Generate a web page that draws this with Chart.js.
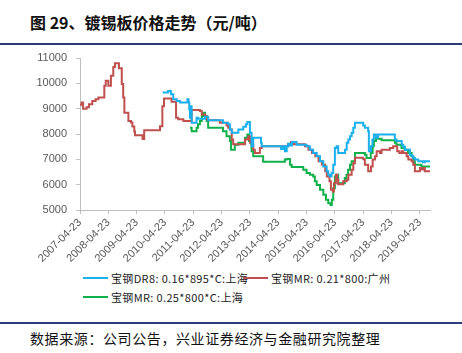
<!DOCTYPE html>
<html lang="zh">
<head>
<meta charset="UTF-8">
<title>镀锡板价格走势</title>
<script src="https://cdn.jsdelivr.net/npm/chart.js@4.4.0/dist/chart.umd.min.js"></script>
<style>
  body { margin: 0; width: 462px; height: 353px; background: #fff; position: relative; overflow: hidden; font-family: "Noto Sans CJK SC", sans-serif; }
  #title { position: absolute; left: 30px; top: 10px; font-size: 16px; font-weight: bold; color: #111; white-space: nowrap; }
  .rule { position: absolute; left: 0; width: 462px; height: 2px; background: #2b3a7a; }
  #wrap { position: absolute; left: 0; top: 0; width: 462px; height: 270px; }
  #legend { position: absolute; left: 83px; top: 270px; font-size: 11px; color: #222; }
  .item { position: absolute; white-space: nowrap; display: flex; align-items: center; letter-spacing: 0.35px; }
  .item i { display: inline-block; width: 25px; height: 2px; margin-right: 3px; }
  #source { position: absolute; left: 30px; top: 328px; font-size: 14px; color: #111; white-space: nowrap; letter-spacing: 0.6px; }
</style>
</head>
<body>
<div id="title">图 29、镀锡板价格走势（元/吨）</div>
<div class="rule" style="top:43px"></div>
<div id="wrap"><canvas id="myChart"></canvas></div>
<div id="legend"></div>
<div class="rule" style="top:322px"></div>
<div id="source">数据来源：公司公告，兴业证券经济与金融研究院整理</div>
<script>
// x values are months after 2007-04-23
const tickLabels = ['2007-04-23','2008-04-23','2009-04-23','2010-04-23','2011-04-23','2012-04-23','2013-04-23',
  '2014-04-23','2015-04-23','2016-04-23','2017-04-23','2018-04-23','2019-04-23'];

const seriesNames = ['宝钢DR8: 0.16*895*C:上海', '宝钢MR: 0.21*800:广州', '宝钢MR: 0.25*800*C:上海'];
const seriesColors = ['#1ab0ee', '#c0504d', '#10b04a'];

const blueMonths = [35, 37.3, 38.5, 39.5, 41, 42.4, 45.5, 46, 46.3, 46.6, 46.9, 47.3, 49.4, 50, 53, 54.3, 60.6, 62.8, 63.5, 64.3,
  67.1, 69.2, 70.3, 70.9, 72, 72.7, 73.4, 76.7, 77, 85.2, 86.1, 86.8, 87.6, 88.2, 89, 89.8, 91.8, 96, 97.4, 98.8, 100.3,
  101.7, 103.1, 104.5, 105.2, 105.9, 106.6, 107.3, 108, 108.7, 109.4, 112.3, 113, 113.7, 114.4, 115.1, 115.8, 116.5,
  120, 120.7, 122.1, 122.4, 123.3, 123.9, 124.5, 125.4, 126.3, 133.4, 134.1, 136.3, 137, 137.7, 139.8, 140.5, 141.2,
  141.9, 143.3, 145.4, 146.1, 148.3];
const blueValues = [9640, 9700, 9570, 9370, 9300, 9240, 9370, 9240, 8970, 8640, 9100, 8440, 8640, 8600, 8680, 8540, 8440, 8380, 8180, 8050,
  8180, 8290, 8380, 8470, 8050, 7520, 7850, 7650, 7520, 7410, 7520, 7320, 7520, 7620, 7550, 7680, 7580, 7520, 7380, 7250, 7120,
  6920, 6720, 6530, 6390, 6320, 6460, 6790, 7450, 7520, 7250, 7380, 7650, 7780, 7910, 8050, 8250, 8440,
  8340, 8250, 8110, 7320, 7520, 7780, 7980, 7850, 7980, 7780, 7720, 7580, 7500, 7380, 7180, 7120, 7050,
  6990, 6920, 6880, 6920, 6880];

const redMonths = [0, 0.7, 1.3, 2.8, 3.8, 5.2, 6.6, 7.8, 10.3, 10.9, 12, 13.1, 14.1, 14.8, 16.5, 17.7, 18.3, 18.8, 20.5, 21.6,
  22.2, 23, 23.3, 26.5, 27.2, 33.9, 34.9, 35.6, 38.8, 40.7, 41.6, 43.8, 47.3, 50.8, 51.6, 53, 53.7, 54.3, 59.3, 62.1,
  62.8, 63.5, 64.3, 64.9, 69.9, 71.3, 72, 72.7, 73.4, 74.1, 76.2, 77, 88.2, 89.4, 90.5, 95.3, 96.8, 98.3, 99.7, 101.1,
  102.5, 103.9, 104.6, 105.7, 106.3, 107.1, 107.6, 108.4, 109, 109.4, 111.5, 113, 113.7, 115.1, 115.8, 116.5, 120, 120.7,
  122.1, 123.3, 124, 125, 125.7, 127.1, 127.8, 131.3, 132.7, 134.4, 135.3, 136.3, 137, 138.4, 139.1, 140.5, 141.2, 141.9,
  144, 144.7, 145.4, 146.1, 148.3];
const redValues = [9150, 9240, 9000, 9060, 9170, 9300, 9370, 9440, 9900, 10100, 9900, 10300, 10640, 10790, 10600, 9970, 9440, 8840, 8510, 8450,
  8300, 8100, 7950, 7800, 8150, 8310, 9100, 9400, 9270, 8640, 8580, 8510, 8950, 8910, 8770, 8700, 8580, 8540, 8440, 8340,
  8250, 8180, 7780, 7600, 7780, 7910, 7650, 7580, 7380, 7250, 7450, 7520, 7620, 7680, 7600, 7520, 7380, 7250, 7120, 6920,
  6790, 6530, 6320, 6130, 5800, 5730, 6060, 6390, 6190, 6020, 6130, 6190, 6390, 6590, 6850, 7060, 7000, 6790,
  6530, 6720, 6990, 7120, 7320, 7250, 7380, 7450, 7520, 7320, 7250, 7320, 7250, 7120, 6990, 6920, 6790, 6530,
  6660, 6600, 6660, 6530, 6500];

const greenMonths = [46.6, 47.3, 49.4, 50, 50.8, 51.6, 52.2, 53, 53.7, 54.3, 60.6, 62.1, 63.5, 64, 65.6, 67.1, 69.9, 70.9, 71.6,
  72.7, 73.4, 77.6, 86.8, 87.6, 89, 89.7, 94.6, 96, 97.4, 98.8, 99.5, 100.3, 101.7, 103.1, 104.2, 105.2, 106.2, 106.7,
  107.3, 108, 108.7, 109.4, 112.2, 112.9, 113.6, 114.4, 115.1, 116.5, 120.7, 121.4, 123.2, 124, 124.5, 125.4, 127.8,
  133.4, 134.1, 136.2, 137.6, 139, 140.5, 141.2, 141.9, 144.7, 148.3];
const greenValues = [8250, 8110, 8250, 8380, 8510, 8710, 8840, 8710, 8510, 8250, 8110, 7910, 7720, 7380, 7580, 7650, 7850, 7980, 7720,
  7320, 7120, 6900, 6990, 7010, 6790, 6700, 6590, 6460, 6390, 6320, 6130, 5990, 5800, 5600, 5400, 5270, 5200, 5400,
  5860, 6320, 6390, 6060, 6260, 6390, 6590, 6790, 6920, 7250, 7180, 7050, 7250, 7520, 7720, 7810, 7750,
  7650, 7580, 7450, 7380, 7250, 7120, 6920, 6790, 6720, 6700];

function toPoints(months, values) {
  return months.map((m, i) => ({ x: m, y: values[i] }));
}

const allSeries = [toPoints(blueMonths, blueValues), toPoints(redMonths, redValues), toPoints(greenMonths, greenValues)];

const datasets = allSeries.map((pts, i) => ({
  label: seriesNames[i],
  data: pts,
  borderColor: seriesColors[i],
  backgroundColor: seriesColors[i],
  borderWidth: 2,
  pointRadius: 0,
  stepped: true,
  fill: false,
}));

const axisGray = '#bfbfbf';
const labelColor = '#595959';

new Chart(document.getElementById('myChart'), {
  type: 'line',
  data: { datasets },
  options: {
    responsive: true,
    maintainAspectRatio: false,
    animation: false,
    layout: { padding: { top: 58, right: 32, left: 0, bottom: 0 } },
    plugins: { legend: { display: false }, tooltip: { enabled: false } },
    scales: {
      x: {
        type: 'linear',
        min: 0,
        max: 148.3,
        afterFit: s => { s.height = 60; },
        afterBuildTicks: s => { s.ticks = tickLabels.map((_, i) => ({ value: i * 12 })); },
        grid: { drawOnChartArea: false, color: axisGray, tickLength: 4 },
        border: { color: axisGray },
        ticks: {
          autoSkip: false,
          minRotation: 45,
          maxRotation: 45,
          padding: 2,
          color: labelColor,
          font: { family: 'Liberation Sans, Arial', size: 11 },
          callback: v => tickLabels[Math.round(v / 12)],
        },
      },
      y: {
        min: 5000,
        max: 11000,
        afterFit: s => { s.width = 80; },
        grid: { drawOnChartArea: false, color: axisGray, tickLength: 4 },
        border: { color: axisGray },
        ticks: {
          stepSize: 1000,
          padding: 9,
          color: labelColor,
          font: { family: 'Liberation Sans, Arial', size: 11 },
          callback: v => String(v),
        },
      },
    },
  },
});

// legend built from the same names and colours
const legend = document.getElementById('legend');
const legendPos = [[0, 0], [160, 0], [0, 19]];
seriesNames.forEach((name, i) => {
  const d = document.createElement('div');
  d.className = 'item';
  d.style.left = legendPos[i][0] + 'px';
  d.style.top = legendPos[i][1] + 'px';
  d.innerHTML = '<i style="background:' + seriesColors[i] + '"></i>' + name;
  legend.appendChild(d);
});
</script>
</body>
</html>
